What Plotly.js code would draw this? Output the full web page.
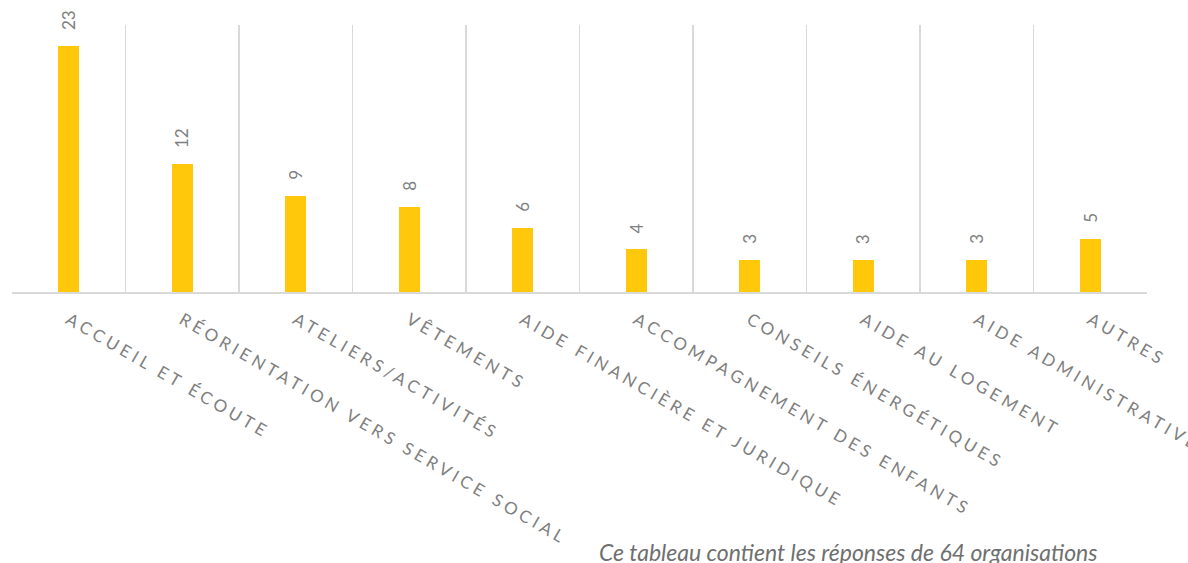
<!DOCTYPE html>
<html>
<head>
<meta charset="utf-8">
<script src="https://cdn.plot.ly/plotly-3.0.1.min.js"></script>
<style>
  body { margin: 0; background: #fff; }
  #chart { width: 1188px; height: 563px; }
  .xtick text { letter-spacing: 4px; }
</style>
</head>
<body>
<div id="chart"></div>
<script>
var categories = [
    "ACCUEIL ET ÉCOUTE",
    "RÉORIENTATION VERS SERVICE SOCIAL",
    "ATELIERS/ACTIVITÉS",
    "VÊTEMENTS",
    "AIDE FINANCIÈRE ET JURIDIQUE",
    "ACCOMPAGNEMENT DES ENFANTS",
    "CONSEILS ÉNERGÉTIQUES",
    "AIDE AU LOGEMENT",
    "AIDE ADMINISTRATIVE",
    "AUTRES"
];
var counts = [23, 12, 9, 8, 6, 4, 3, 3, 3, 5];
var footnote = "Ce tableau contient les réponses de 64 organisations";

var gray = "#7f7f7f";

var barTrace = {
    x: categories,
    y: counts,
    type: 'bar',
    width: 0.185,
    marker: {color: '#FFC80A'},
    hoverinfo: 'skip'
};

// value labels, turned on their side above each bar
var valueLabels = categories.map(function(c, i) {
    return {
        x: c,
        y: counts[i],
        xref: 'x',
        yref: 'y',
        text: String(counts[i]),
        textangle: -90,
        showarrow: false,
        xanchor: 'center',
        yanchor: 'bottom',
        yshift: 14,
        font: {family: 'Lato', size: 17, color: gray}
    };
});

valueLabels.push({
    x: 0.737,
    y: -0.975,
    xref: 'paper',
    yref: 'paper',
    text: footnote,
    showarrow: false,
    xanchor: 'center',
    yanchor: 'middle',
    font: {family: 'Lato', size: 23, color: '#6f6f6f', style: 'italic'}
});

var layout = {
    width: 1188,
    height: 563,
    margin: {l: 12, r: 41, t: 25, b: 271},
    paper_bgcolor: '#ffffff',
    plot_bgcolor: '#ffffff',
    showlegend: false,
    bargap: 0,
    xaxis: {
        type: 'category',
        tickson: 'boundaries',
        showgrid: true,
        gridcolor: '#d9d9d9',
        gridwidth: 1.5,
        showline: true,
        linecolor: '#d9d9d9',
        linewidth: 1.5,
        ticks: '',
        tickangle: 30,
        ticklabelstandoff: 10,
        tickfont: {family: 'Lato', size: 17, color: gray},
        automargin: false
    },
    yaxis: {
        range: [0, 25],
        showgrid: false,
        zeroline: false,
        showticklabels: false,
        ticks: '',
        showline: false
    },
    annotations: valueLabels
};

Plotly.newPlot('chart', [barTrace], layout, {displayModeBar: false, staticPlot: true});
</script>
</body>
</html>
